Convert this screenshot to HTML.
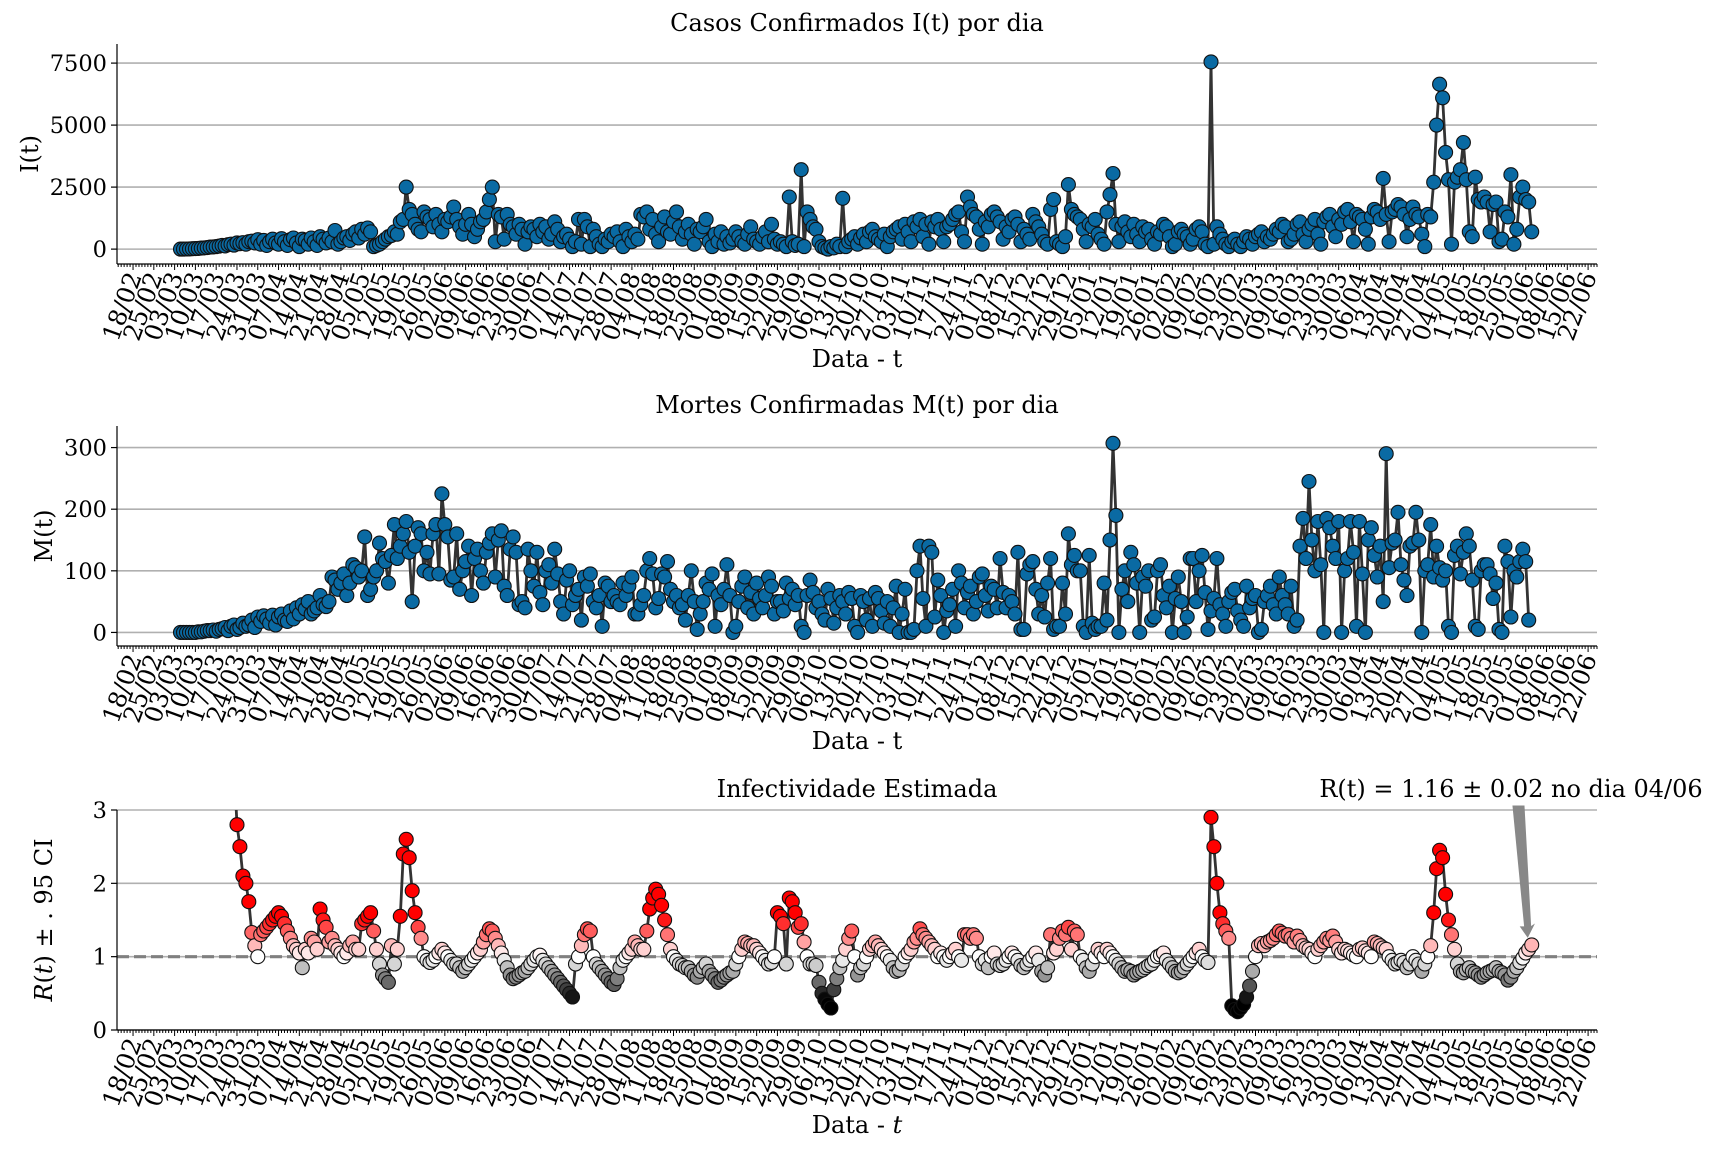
<!DOCTYPE html>
<html><head><meta charset="utf-8">
<style>
html,body{margin:0;padding:0;background:#fff;}
svg{display:block;font-family:"DejaVu Serif","Liberation Serif",serif;}
</style></head>
<body>
<svg id="chart" width="1728" height="1152" viewBox="0 0 1728 1152" xmlns="http://www.w3.org/2000/svg">
<defs><clipPath id="clip3"><rect x="117" y="810" width="1480" height="220"/></clipPath></defs>
</svg>
<script>
// ---- data ----
const dateLabels = ["18/02","25/02","03/03","10/03","17/03","24/03","31/03","07/04","14/04","21/04","28/04","05/05","12/05","19/05","26/05","02/06","09/06","16/06","23/06","30/06","07/07","14/07","21/07","28/07","04/08","11/08","18/08","25/08","01/09","08/09","15/09","22/09","29/09","06/10","13/10","20/10","27/10","03/11","10/11","17/11","24/11","01/12","08/12","15/12","22/12","29/12","05/01","12/01","19/01","26/01","02/02","09/02","16/02","23/02","02/03","09/03","16/03","23/03","30/03","06/04","13/04","20/04","27/04","04/05","11/05","18/05","25/05","01/06","08/06","15/06","22/06"];
const casesStartDay = 16;
const cases = [0,0,5,10,15,20,30, 40,50,60,80,90,100,120, 150,130,180,200,160,250,220, 260,200,300,320,250,380,200,
350,150,300,400,250,200,420, 300,150,380,450,250,100,400, 350,200,450,300,150,500,400, 250,450,300,750,200,300,450,
500,350,600,700,450,800,600, 850,700,100,150,200,300,400, 500,550,700,600,1100,1200,2500, 1600,1400,1000,800,700,1500,1300,
1200,900,1400,1000,700,1200,1100, 1300,1700,1200,900,600,1000,1400, 1000,500,800,1100,1200,1500,2000, 2500,300,1400,1300,400,1400,1000,
900,600,1000,800,200,700,900, 800,500,1000,700,900,400,600, 1100,800,300,500,600,400,100, 300,1200,200,1200,900,100,800,
500,200,100,400,300,600,500, 700,300,100,800,500,300,600, 400,1400,1300,1500,800,1200,600, 300,900,1300,700,600,1100,1500,
900,400,700,1000,600,200,800, 700,900,1200,300,100,600,300, 700,200,500,250,400,700,500, 300,200,600,900,400,300,200,
500,700,300,1000,400,200,300, 200,100,2100,300,150,200,3200, 100,1500,1200,900,800,300,100, 50,0,100,50,200,100,2050,
100,300,400,500,200,450,600, 300,700,800,500,400,300,600, 100,500,700,800,900,400,1000, 700,300,1100,900,1200,500,1000,
200,1100,900,1200,800,300,900, 1000,1200,1400,1500,700,300,2100, 1700,1400,1300,800,200,1100,900, 1400,1500,1300,1100,400,900,700,
1200,1300,1000,300,800,600,400, 1400,1100,900,600,300,200,1600, 2000,300,200,100,500,2600,1600, 1400,1300,1200,800,300,1000,900,
1200,600,400,200,1500,2200,3050, 1000,300,900,1100,700,500,1000, 600,300,900,700,800,400,200, 700,600,1000,900,500,100,200,
700,800,600,500,200,400,800, 900,700,200,100,7550,200,900, 600,400,200,100,300,400,200, 100,300,500,400,200,500,600,
700,300,500,400,600,800,700, 1000,900,300,400,600,1000,1100, 600,300,800,1000,1200,600,200, 1100,1300,1400,900,500,1200,1000,
1500,1600,1100,300,1400,1300,1200, 800,200,1300,1600,1500,1200,2850, 1400,300,1500,1600,1800,1700,1400, 500,1200,1700,1400,1300,600,100,
1400,1300,2700,5000,6650,6100,3900, 2800,200,2700,2900,3200,4300,2800, 700,500,2900,2000,1900,2100,1900, 700,1800,1900,300,400,1500,1300,
3000,200,800,2100,2500,2000,1900,700];
const deathsStartDay = 16;
const deaths = [0,0,0,0,0,0,1, 1,2,3,3,4,2,5, 6,8,3,10,12,5,8, 15,10,12,20,8,25,18, 27,22,15,28,12,25,30, 20,18,35,22,40,30,45,
38,50,30,35,40,60,45, 42,50,90,85,70,80,95, 60,80,110,105,90,100,155, 60,70,90,100,145,120,115, 80,125,175,120,140,160,180,
130,50,140,170,160,100,130, 95,160,175,95,225,175,155, 85,90,160,70,100,115,140, 60,120,135,100,80,130,145, 160,90,150,165,75,60,135,
155,130,45,50,40,135,100, 75,130,65,45,100,110,80, 135,95,50,30,85,100,45, 60,70,20,90,75,95,50, 40,60,10,80,75,50,60,
50,45,80,60,75,90,30, 30,45,60,100,120,95,40, 55,95,90,115,70,50,60, 40,45,20,60,100,50,5, 30,50,80,70,95,10,60,
45,70,110,60,0,10,50, 75,90,40,65,30,80,55, 40,60,90,75,30,50,50, 35,80,55,70,45,60,10, 0,60,85,65,40,50,30,
20,70,55,15,40,60,50, 30,65,55,10,0,60,50, 20,55,10,65,55,35,15, 50,10,40,75,0,30,70, 0,0,5,100,140,55,10,
140,130,25,85,60,0,35, 45,70,10,100,80,40,65, 75,30,50,90,95,60,35, 75,70,40,120,65,40,60, 50,30,130,5,5,95,110,
115,70,30,60,25,80,120, 5,10,10,80,30,160,110, 125,100,100,10,0,125,15, 5,10,10,80,20,150,307, 190,0,70,100,50,130,110,
80,0,90,75,100,20,25, 100,110,60,40,75,0,55, 90,50,0,25,120,120,50, 100,125,65,5,35,55,120, 45,30,10,50,65,70,35,
20,10,75,40,55,60,0, 5,50,60,75,45,30,90, 60,45,30,75,10,20,140, 185,120,245,150,100,180,110, 0,185,170,140,120,180,0,
100,120,180,130,10,180,95, 0,150,170,125,90,140,50, 290,105,145,150,195,110,85, 60,140,145,195,150,0,100, 110,175,90,140,105,85,100,
10,0,125,140,95,130,160, 140,85,10,5,100,110,110, 95,55,80,5,0,140,115, 25,100,90,115,135,115,20];
const rStartDay = 34;
const rValues = [3.6,2.8,2.5,2.1,2.0,1.75,1.33, 1.15,1.0,1.3,1.35,1.4,1.45,1.5, 1.55,1.6,1.55,1.45,1.35,1.25,1.15, 1.1,1.05,0.85,1.1,1.05,1.25,1.2,
1.1,1.65,1.5,1.4,1.2,1.25,1.15, 1.1,1.05,1.0,1.05,1.15,1.2,1.1, 1.1,1.45,1.5,1.55,1.6,1.35,1.1, 0.9,0.75,0.7,0.65,1.15,0.9,1.1,
1.55,2.4,2.6,2.35,1.9,1.6,1.4, 1.25,1.0,0.95,0.92,0.95,1.0,1.05, 1.1,1.05,1.0,0.95,0.9,0.9,0.85, 0.8,0.85,0.9,0.95,1.0,1.05,1.1,
1.2,1.3,1.38,1.35,1.25,1.15,1.05, 0.95,0.85,0.75,0.7,0.72,0.75,0.78, 0.8,0.85,0.9,0.95,1.0,1.02,0.95, 0.9,0.85,0.8,0.75,0.7,0.65,0.6,
0.55,0.5,0.45,0.9,1.0,1.15,1.3, 1.38,1.35,1.0,0.9,0.85,0.8,0.75, 0.7,0.65,0.62,0.7,0.85,0.95,1.0, 1.05,1.1,1.2,1.15,1.1,1.1,1.35,
1.65,1.8,1.92,1.85,1.7,1.5,1.3, 1.1,1.0,0.95,0.9,0.88,0.85,0.85, 0.8,0.75,0.72,0.8,0.85,0.9,0.8, 0.75,0.7,0.65,0.68,0.72,0.75,0.78,
0.8,0.9,1.0,1.1,1.2,1.18,1.15, 1.15,1.1,1.05,1.0,0.95,0.9,0.92, 1.0,1.6,1.55,1.45,0.9,1.8,1.75, 1.6,1.4,1.45,1.2,1.0,0.9,0.9,
0.88,0.65,0.5,0.42,0.35,0.3,0.55, 0.7,0.85,0.95,1.1,1.25,1.35,1.0, 0.75,0.85,0.9,1.0,1.1,1.15,1.2, 1.15,1.1,1.05,1.0,0.95,0.85,0.8,
0.82,0.9,1.0,1.05,1.1,1.2,1.25, 1.38,1.3,1.25,1.2,1.15,1.1,1.0, 1.05,1.0,0.95,1.0,1.05,1.1,1.0, 0.95,1.3,1.3,1.25,1.3,1.25,1.0,
0.9,0.95,0.85,1.0,1.05,0.9,0.88, 0.9,0.95,1.0,1.05,1.0,0.95,0.88, 0.85,0.9,0.95,1.0,1.05,0.95,0.8, 0.75,0.85,1.3,1.05,1.1,1.25,1.35,
1.3,1.4,1.1,1.35,1.3,1.0,0.95, 0.85,0.8,0.9,1.0,1.1,1.05,1.0, 1.1,1.05,1.0,0.95,0.9,0.85,0.8, 0.82,0.8,0.75,0.78,0.8,0.82,0.85,
0.88,0.9,0.95,1.0,1.02,1.05,0.95, 0.9,0.85,0.8,0.78,0.8,0.85,0.9, 0.95,1.0,1.05,1.1,1.0,0.95,0.92, 2.9,2.5,2.0,1.6,1.45,1.35,1.25,
0.33,0.28,0.25,0.3,0.35,0.45,0.6, 0.8,1.0,1.15,1.18,1.15,1.2,1.22, 1.25,1.3,1.35,1.32,1.28,1.3,1.25, 1.2,1.28,1.22,1.15,1.12,1.1,1.05,
1.0,1.1,1.15,1.2,1.25,1.22,1.28, 1.2,1.1,1.05,1.1,1.08,1.05,1.02, 1.0,1.1,1.12,1.08,1.05,1.0,1.2, 1.18,1.15,1.12,1.1,1.0,0.95,0.9,
0.92,0.95,0.92,0.85,0.9,1.0,0.95, 0.9,0.8,0.9,1.0,1.15,1.6,2.2, 2.45,2.35,1.85,1.5,1.3,1.1,0.9, 0.8,0.78,0.82,0.85,0.8,0.78,0.75,
0.72,0.75,0.78,0.8,0.82,0.85,0.8, 0.78,0.75,0.68,0.72,0.8,0.85,0.92, 0.98,1.05,1.1,1.16];
const casesTicks = [0,2500,5000,7500];
const deathsTicks = [0,100,200,300];
const rTicks = [0,1,2,3];

// ---- layout ----
const NS = "http://www.w3.org/2000/svg";
const svg = document.getElementById('chart');
const X0 = 117, X1 = 1597, DMIN = -5.4, DMAX = 493;
function xScale(d){ return X0 + (d - DMIN) / (DMAX - DMIN) * (X1 - X0); }
function mk(tag, attrs, parent){ const e = document.createElementNS(NS, tag); for (const k in attrs) e.setAttribute(k, attrs[k]); (parent||svg).appendChild(e); return e; }
function yScaleFactory(top, bottom, vmin, vmax){ return v => bottom - (v - vmin) / (vmax - vmin) * (bottom - top); }

function rColor(r){
  if (r >= 1){ const t = Math.min(1, (r - 1) / 0.55); const g = Math.round(255 * (1 - t)); return `rgb(255,${g},${g})`; }
  const t = Math.min(1, (1 - r) / 0.6); const g = Math.round(255 * (1 - t)); return `rgb(${g},${g},${g})`;
}

function panel(cfg){
  const g = mk('g', {});
  
  
  const y = yScaleFactory(cfg.top, cfg.bottom, cfg.vmin, cfg.vmax);
  cfg.yticks.forEach(v => {
    const yy = y(v);
    const gl = mk('line', {x1:X0, x2:X1, y1:yy, y2:yy, stroke:'#b0b0b0', 'stroke-width':1.6}, g);
    
    
    mk('line', {x1:X0-6, x2:X0, y1:yy, y2:yy, stroke:'#000', 'stroke-width':1.2}, g);
    const t = mk('text', {x:X0-10, y:yy+8, 'text-anchor':'end', 'font-size':22.5, fill:'#000'}, g);
    t.textContent = String(v);
    
    
  });
  if (cfg.hline){
    const hl = mk('line', {x1:X0, x2:X1, y1:y(1), y2:y(1), stroke:'#808080', 'stroke-width':3.2, 'stroke-dasharray':'12,5'}, g);
    
    
  }
  const sp1 = mk('line', {x1:X0, x2:X0, y1:cfg.top, y2:cfg.bottom, stroke:'#000', 'stroke-width':1.2}, g);
  
  
  const sp2 = mk('line', {x1:X0, x2:X1, y1:cfg.bottom, y2:cfg.bottom, stroke:'#000', 'stroke-width':1.2}, g);
  
  
  for (let d = Math.ceil(DMIN); d <= DMAX; d++){
    const xx = xScale(d);
    mk('line', {x1:xx, x2:xx, y1:cfg.bottom, y2:cfg.bottom + (d % 7 === 0 ? 6 : 3), stroke:'#000', 'stroke-width':1}, g);
  }
  dateLabels.forEach((lab, i) => {
    const xx = xScale(i * 7);
    const t = mk('text', {transform:`translate(${xx+9},${cfg.bottom+12}) rotate(-70)`, 'text-anchor':'end', 'font-size':24.5, fill:'#000'}, g);
    t.textContent = lab;
    
    
  });
  const ti = mk('text', {x:(X0+X1)/2, y:cfg.top-13, 'text-anchor':'middle', 'font-size':24, fill:'#000'}, g);
  ti.textContent = cfg.title;
  
  
  const xl = mk('text', {x:(X0+X1)/2, y:cfg.bottom+103, 'text-anchor':'middle', 'font-size':24, fill:'#000'}, g);
  xl.innerHTML = cfg.xlabel;
  
  
  const yl = mk('text', {transform:`translate(${cfg.ylx},${(cfg.top+cfg.bottom)/2}) rotate(-90)`, 'text-anchor':'middle', 'font-size':24, fill:'#000'}, g);
  yl.innerHTML = cfg.ylabel;
  
  
  const sg = mk('g', cfg.clip ? {'clip-path':'url(#clip3)'} : {}, g);
  
  
  const pts = cfg.values.map((v, i) => [xScale(cfg.start + i), y(v)]);
  const line = mk('polyline', {points: pts.map(p => p[0].toFixed(1)+','+p[1].toFixed(1)).join(' '), fill:'none', stroke:'#333', 'stroke-width':2.8, 'stroke-linejoin':'round'}, sg);
  
  
  pts.forEach((p, i) => {
    const c = mk('circle', {cx:p[0].toFixed(1), cy:p[1].toFixed(1), r:7, fill: cfg.color ? cfg.color(cfg.values[i]) : '#0a6aa3', stroke:'#111', 'stroke-width':1.1}, sg);
    
    
  });
  return y;
}

panel({name:'cases-panel', seriesName:'cases-series', top:44, bottom:264, vmin:-600, vmax:8270, yticks:casesTicks, title:'Casos Confirmados I(t) por dia', xlabel:'Data - t', ylabel:'I(t)', ylx:38, values:cases, start:casesStartDay});
panel({name:'deaths-panel', seriesName:'deaths-series', top:426, bottom:646, vmin:-22, vmax:335, yticks:deathsTicks, title:'Mortes Confirmadas M(t) por dia', xlabel:'Data - t', ylabel:'M(t)', ylx:52, values:deaths, start:deathsStartDay});
const yR = panel({name:'r-panel', seriesName:'r-series', top:810, bottom:1030, vmin:0, vmax:3, yticks:rTicks, title:'Infectividade Estimada', xlabel:'Data - <tspan font-style="italic">t</tspan>', ylabel:'<tspan font-style="italic">R</tspan>(<tspan font-style="italic">t</tspan>) ± . 95 CI', ylx:52, values:rValues, start:rStartDay, clip:true, hline:true, color:rColor});

const lastDay = rStartDay + rValues.length - 1;
const lastR = rValues[rValues.length - 1];
const tipX = xScale(lastDay) - 4, tipY = yR(lastR) - 8;
const arrow = mk('polygon', {points:`1513,806 1524,806 ${tipX+3},${tipY-10} ${tipX+6},${tipY-12} ${tipX},${tipY} ${tipX-7},${tipY-10} ${tipX-3},${tipY-10}`, fill:'#888', stroke:'#888', 'stroke-width':1});


const ann = mk('text', {x:1511, y:797, 'text-anchor':'middle', 'font-size':24, fill:'#000'});
ann.textContent = 'R(t) = 1.16 ± 0.02 no dia 04/06';


</script>
</body></html>
